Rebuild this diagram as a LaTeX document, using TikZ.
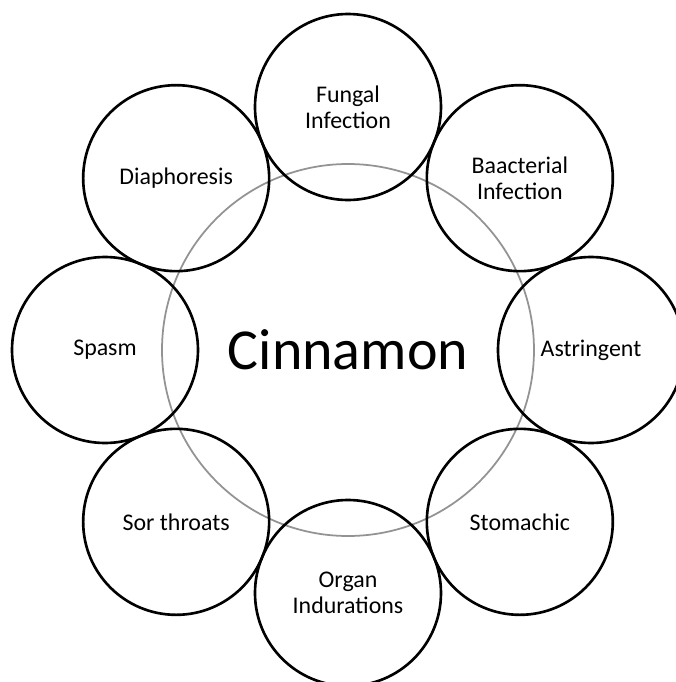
\documentclass[tikz,border=0pt]{standalone}
\usepackage{fontspec}
\setmainfont{Carlito}
\begin{document}
\begin{tikzpicture}[
    effect/.style={draw, circle, line width=1.5pt, minimum size=3.72cm, inner sep=0pt,
                   align=center, font=\fontsize{13.6}{14.6}\selectfont},
    core/.style={draw=gray!85, circle, line width=1pt, minimum size=7.44cm, inner sep=0pt,
                 font=\fontsize{33}{36}\selectfont}]
                \useasboundingbox (-6.96,-6.64) rectangle (6.56,7.0);
                \node [core] (cinnamon) at (0,0) {Cinnamon};
                \node [effect] (fungal) at (90:4.86) {Fungal\\Infection};
                \node [effect] (bacterial) at (45:4.86) {Baacterial\\Infection};
                \node [effect] (astringent) at (0:4.86) {Astringent};
                \node [effect] (stomachic) at (-45:4.86) {Stomachic};
                \node [effect] (organ) at (-90:4.86) {Organ\\Indurations};
                \node [effect] (throats) at (-135:4.86) {Sor throats};
                \node [effect] (spasm) at (180:4.86) {Spasm};
                \node [effect] (diaphoresis) at (135:4.86) {Diaphoresis};
            \end{tikzpicture}
\end{document}
